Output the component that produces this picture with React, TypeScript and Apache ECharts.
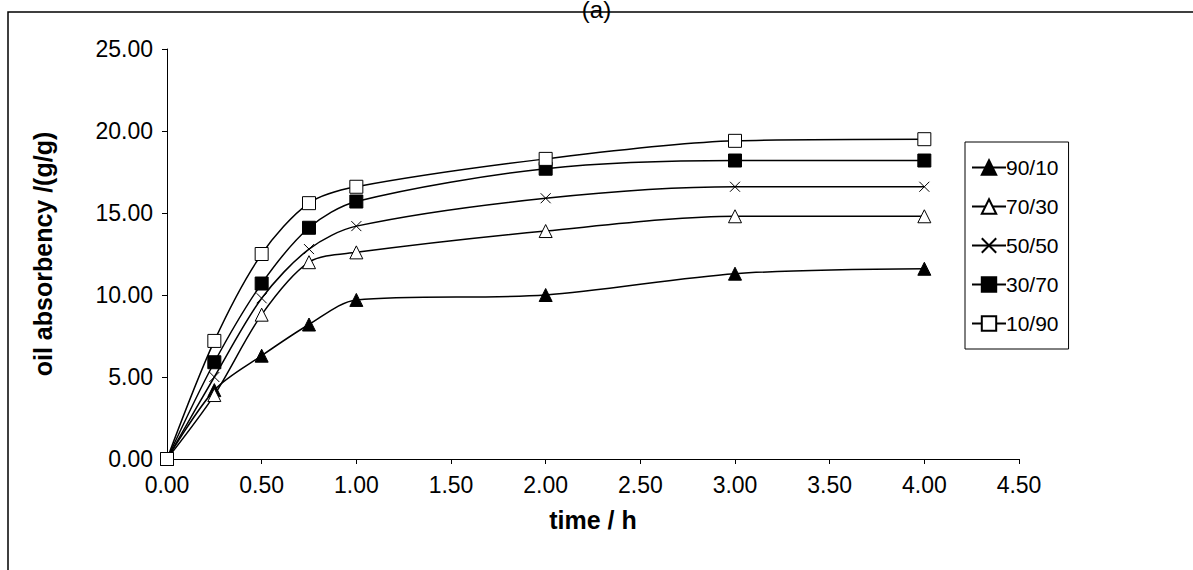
import React, { useRef, useEffect } from "react";
import * as echarts from "echarts";

const times = [0, 0.25, 0.5, 0.75, 1, 2, 3, 4];
const seriesNames = ["90/10", "70/30", "50/50", "30/70", "10/90"];
const s9010 = [0, 4.2, 6.3, 8.2, 9.7, 10.0, 11.3, 11.6];
const s7030 = [0, 3.9, 8.8, 12.0, 12.6, 13.9, 14.8, 14.8];
const s5050 = [0, 5.0, 9.8, 12.8, 14.2, 15.9, 16.6, 16.6];
const s3070 = [0, 5.9, 10.7, 14.1, 15.7, 17.7, 18.2, 18.2];
const s1090 = [0, 7.2, 12.5, 15.6, 16.6, 18.3, 19.4, 19.5];
const values = [s9010, s7030, s5050, s3070, s1090];

const symbols = ["triangle", "triangle", "path://M0,0L10,10M10,0L0,10", "rect", "rect"];
const fills = ["#000", "#fff", "none", "#000", "#fff"];

const font = "'Liberation Sans', Arial, sans-serif";

const App = () => {
  const ref = useRef(null);
  useEffect(() => {
    const chart = echarts.init(ref.current, null, { renderer: "svg" });
    chart.setOption({
      animation: false,
      textStyle: { fontFamily: font },
      title: {
        text: "(a)",
        left: "center",
        top: -8,
        textStyle: { fontSize: 24, fontWeight: "normal", color: "#000", fontFamily: font },
      },
      graphic: [
        {
          type: "rect",
          shape: { x: 8, y: 12, width: 1200, height: 600 },
          style: { fill: "none", stroke: "#000", lineWidth: 1.5 },
          silent: true,
        },
      ],
      grid: { left: 167, right: 174, top: 49, bottom: 111 },
      legend: {
        orient: "vertical",
        left: 965,
        top: 142,
        padding: [15, 10, 15, 6],
        itemGap: 18,
        itemWidth: 34,
        itemHeight: 18,
        borderColor: "#000",
        borderWidth: 1,
        backgroundColor: "#fff",
        textStyle: { fontSize: 21, color: "#000", fontFamily: font, padding: [0, 0, 0, -5] },
        data: seriesNames,
      },
      xAxis: {
        type: "value",
        min: 0,
        max: 4.5,
        interval: 0.5,
        name: "time / h",
        nameLocation: "middle",
        nameGap: 48,
        nameTextStyle: { fontSize: 25, fontWeight: "bold", color: "#000", fontFamily: font },
        axisLine: { lineStyle: { color: "#000" } },
        axisTick: { length: 5, lineStyle: { color: "#000" } },
        axisLabel: { fontSize: 23, color: "#000", fontFamily: font, margin: 14, formatter: (v) => v.toFixed(2) },
        splitLine: { show: false },
      },
      yAxis: {
        type: "value",
        min: 0,
        max: 25,
        interval: 5,
        name: "oil absorbency /(g/g)",
        nameLocation: "middle",
        nameGap: 112,
        nameTextStyle: { fontSize: 25, fontWeight: "bold", color: "#000", fontFamily: font },
        axisLine: { show: true, lineStyle: { color: "#000" } },
        axisTick: { show: true, length: 5, lineStyle: { color: "#000" } },
        axisLabel: { fontSize: 23, color: "#000", fontFamily: font, margin: 14, formatter: (v) => v.toFixed(2) },
        splitLine: { show: false },
      },
      series: seriesNames.map((name, i) => ({
        name,
        type: "line",
        smooth: 0.3,
        data: times.map((t, j) => [t, values[i][j]]),
        symbol: symbols[i],
        symbolSize: i === 2 ? 10 : 13,
        lineStyle: { color: "#000", width: 1.5 },
        itemStyle: { color: fills[i], borderColor: "#000", borderWidth: 1 },
      })),
    });
    return () => chart.dispose();
  }, []);
  return (
    <div
      ref={ref}
      style={{ position: "fixed", left: 0, top: 0, width: 1193, height: 570, background: "#fff" }}
    />
  );
};

export default App;
